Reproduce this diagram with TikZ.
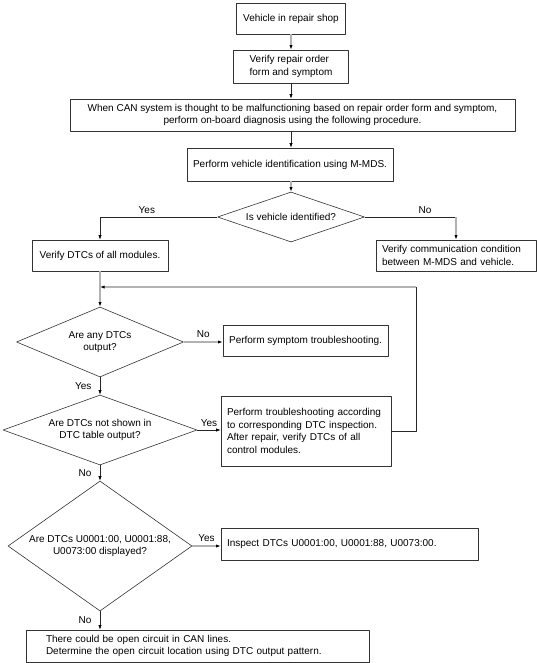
\documentclass[tikz,border=0pt]{standalone}
\usepackage{fontspec}
\setmainfont{Liberation Sans}
\usetikzlibrary{shapes.geometric,arrows.meta}
\begin{document}
\begin{tikzpicture}[x=1pt,y=-1pt,line join=round,
		font=\fontsize{10}{12.5}\selectfont,
		box/.style={draw=black!80,line width=0.6pt,inner sep=3pt},
		dia/.style={draw=black!80,line width=0.6pt,diamond,inner sep=0pt,align=center},
		arr/.style={draw=black!85,line width=0.6pt,-{Latex[length=4.5pt,width=3.2pt,black]}},
		arrg/.style={draw=black!30,line width=1.4pt,-{Latex[length=4.5pt,width=3.2pt,black]}},
		lnk/.style={draw=black!85,line width=0.6pt}]
			\def\cx{291} \def\lx{100}
			\useasboundingbox (0,0) rectangle (537,663);
			%\draw[line width=0.1pt,dashed,black!20] (0,0) grid[step=50] (537,663);
			\node[box,minimum width=109pt,minimum height=31pt] (veh) at (\cx,18.5) {Vehicle in repair shop};
			\node[box,minimum width=115pt,minimum height=33pt,align=left] (order) at (\cx,66.5) {Verify repair order\\form and symptom};
			\node[box,minimum width=445pt,minimum height=32pt,align=center] (can) at (292.5,115) {When CAN system is thought to be malfunctioning based on repair order form and symptom,\\perform on-board diagnosis using the following procedure.};
			\node[box,minimum width=206pt,minimum height=33pt] (mds) at (290,164.5) {Perform vehicle identification using M-MDS.};
			\node[dia,aspect=2.94,minimum width=147pt,minimum height=50pt] (ident) at (\cx,217) {Is vehicle identified?};
			\node[box,minimum width=136pt,minimum height=31pt] (alldtc) at (\lx,255.5) {Verify DTCs of all modules.};
			\node[box,text width=148pt,inner xsep=6pt,minimum height=31pt,align=left] (comm) at (456,255.5) {Verify communication condition\\between M-MDS and vehicle.};
			\node[dia,aspect=2.39,minimum width=167pt,minimum height=70pt] (anydtc) at (\lx,342) {Are any DTCs\\output?};
			\node[box,minimum width=165pt,minimum height=31pt] (symp) at (305.5,340.5) {Perform symptom troubleshooting.};
			\node[dia,aspect=2.77,minimum width=194pt,minimum height=70pt] (notshown) at (\lx,430) {Are DTCs not shown in\\DTC table output?};
			\node[box,text width=158pt,inner xsep=6pt,minimum height=70pt,align=left] (trbl) at (306,431) {Perform troubleshooting according\\to corresponding DTC inspection.\\After repair, verify DTCs of all\\control modules.};
			\node[dia,aspect=1.415,minimum width=184pt,minimum height=130pt] (udtc) at (\lx,546) {Are DTCs U0001:00, U0001:88,\\U0073:00 displayed?};
			\node[box,text width=245pt,inner xsep=6pt,minimum height=32pt,align=left] (insp) at (349.5,544) {Inspect DTCs U0001:00, U0001:88, U0073:00.};
			\node[box,text width=303pt,inner xsep=20pt,minimum height=32pt,align=left] (open) at (197.5,646) {There could be open circuit in CAN lines.\\Determine the open circuit location using DTC output pattern.};
			\coordinate (noturn) at (ident.east -| comm.north);
			\coordinate (back) at (416,287);
			\coordinate (join) at (\lx,287);
			\draw[arrg] (veh) -- (order);
			\draw[arr] (order) -- (order.south |- can.north);
			\draw[arr] (can.south -| order.south) -- (order.south |- mds.north);
			\draw[arrg] (mds.south -| ident.north) -- (ident);
			\draw[arr] (ident.west) -| node[pos=0.3,above]{Yes} (alldtc.north);
			\draw[lnk] (ident.east) -- node[pos=0.66,above]{No} (noturn);
			\draw[arrg] (noturn) -- (comm.north);
			\draw[arrg] (alldtc) -- (anydtc);
			\draw[lnk] (trbl.east) -| (back);
			\draw[arrg] (back) -- (join);
			\draw[arrg] (anydtc.east) -- node[above]{No} (anydtc.east -| symp.west);
			\draw[arr] (anydtc) -- node[left=5pt]{Yes} (notshown);
			\draw[arr] (notshown.east) -- node[above]{Yes} (notshown.east -| trbl.west);
			\draw[arr] (notshown) -- node[left=5pt]{No} (udtc);
			\draw[arrg] (udtc.east) -- node[above]{Yes} (udtc.east -| insp.west);
			\draw[arr] (udtc.south) -- node[left=5pt]{No} (udtc.south |- open.north);
		\end{tikzpicture}
\end{document}
